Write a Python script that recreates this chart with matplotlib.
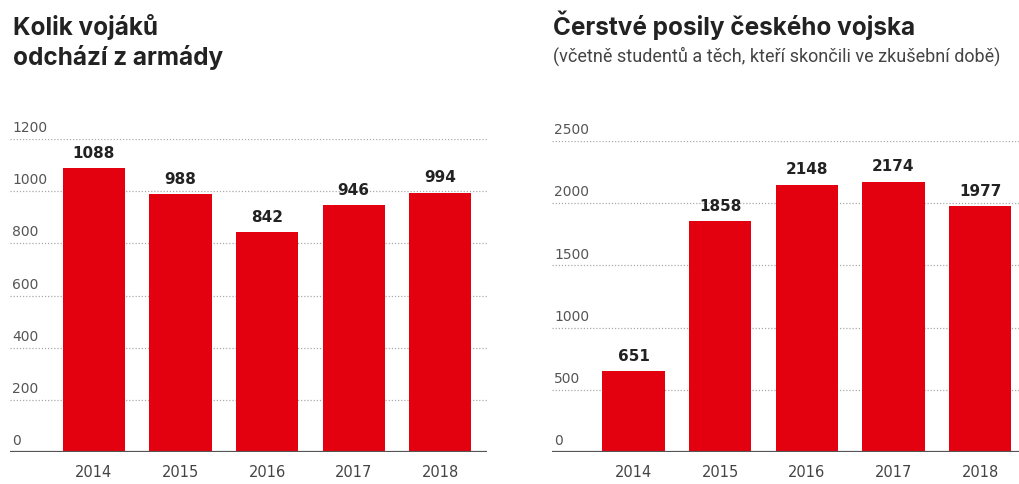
import matplotlib
matplotlib.use("Agg")
import matplotlib.pyplot as plt

years = ["2014", "2015", "2016", "2017", "2018"]
leaving = [1088, 988, 842, 946, 994]
recruits = [651, 1858, 2148, 2174, 1977]
left_ticks = [0, 200, 400, 600, 800, 1000, 1200]
right_ticks = [0, 500, 1000, 1500, 2000, 2500]

RED = "#e3000f"
TITLE_FONT = "Inter"
BODY_FONT = "DejaVu Sans"

fig = plt.figure(figsize=(10.2, 4.85), dpi=100)
fig.patch.set_facecolor("white")

def draw(ax, values, ticks, xlim):
    x = list(range(len(years)))
    ax.bar(x, values, width=0.72, color=RED, zorder=2)
    ax.set_xlim(*xlim)
    ax.set_ylim(0, ticks[-1])
    for t in ticks:
        if t == 0:
            ax.axhline(0, color="#555555", lw=1.6, zorder=3)
        else:
            ax.axhline(t, color="#aaaaaa", lw=0.9, ls=(0, (1, 1.5)), zorder=1)
        ax.annotate(str(t), xy=(0, t), xycoords=("axes fraction", "data"),
                    xytext=(1.5, 3.5), textcoords="offset points",
                    ha="left", va="bottom", fontsize=10, color="#555555",
                    family=BODY_FONT)
    for xi, v in zip(x, values):
        ax.annotate(str(v), xy=(xi, v), xytext=(0, 6), textcoords="offset points",
                    ha="center", va="bottom", fontsize=11, fontweight="bold",
                    color="#222222", family="DejaVu Sans")
    ax.set_xticks(x)
    ax.set_xticklabels(years, fontsize=10.5, color="#444444", family=BODY_FONT)
    ax.tick_params(axis="x", length=0, pad=9)
    ax.set_yticks([])
    for s in ax.spines.values():
        s.set_visible(False)

ax1 = fig.add_axes([10/1020, 32/485, 477/1020, 313/485])
draw(ax1, leaving, left_ticks, (-0.97, 4.54))

ax2 = fig.add_axes([552/1020, 32/485, 468/1020, 311/485])
draw(ax2, recruits, right_ticks, (-0.94, 4.46))

fig.text(13/1020, 1 - 35/485, "Kolik vojáků", fontsize=17.5, fontweight="bold",
         color="#222222", family=TITLE_FONT, ha="left", va="baseline")
fig.text(13/1020, 1 - 65/485, "odchází z armády", fontsize=17.5, fontweight="bold",
         color="#222222", family=TITLE_FONT, ha="left", va="baseline")
fig.text(553/1020, 1 - 35/485, "Čerstvé posily českého vojska", fontsize=17.5,
         fontweight="bold", color="#222222", family=TITLE_FONT, ha="left", va="baseline")
fig.text(553/1020, 1 - 62/485, "(včetně studentů a těch, kteří skončili ve zkušební době)",
         fontsize=13, color="#444444", family="Roboto", ha="left", va="baseline")

fig.savefig("out.png", dpi=100, facecolor="white")
